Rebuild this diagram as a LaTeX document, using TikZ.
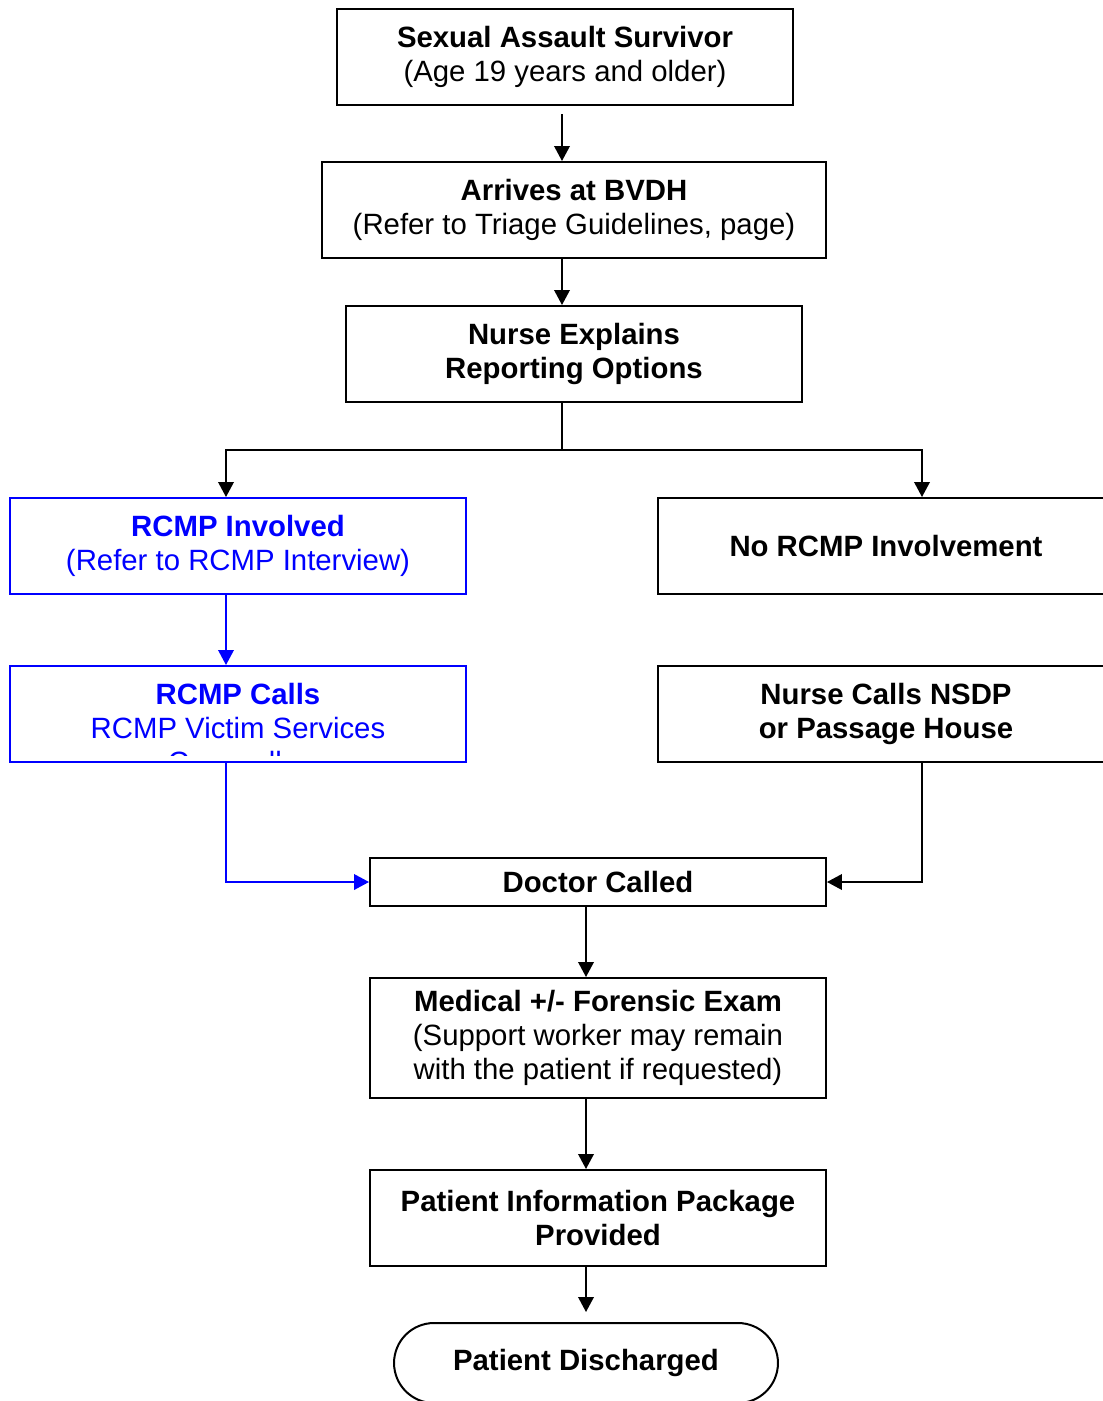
\documentclass[tikz,border=0pt]{standalone}
\usepackage{fontspec}
\setmainfont{Liberation Sans}
\usetikzlibrary{arrows.meta,shapes.misc}
\definecolor{rcmpblue}{RGB}{0,0,255}

\begin{document}
\begin{tikzpicture}[x=0.02cm,y=-0.02cm,line width=1.14pt,
  >={Triangle[length=0.3cm,width=0.31cm]},
  every node/.style={font=\fontsize{16.7}{19.35}\selectfont,align=center,inner sep=0pt},
  box/.style={shape=rectangle,draw,minimum width=9.12cm,minimum height=1.92cm},
  bluebox/.style={box,draw=rcmpblue,text=rcmpblue},
  endbox/.style={shape=rounded rectangle,draw,minimum width=7.68cm,minimum height=1.6cm}]
\clip (0,0) rectangle (1103,1401);
% top column
\path (565,57) node (surv) [box] {\textbf{Sexual Assault Survivor}\\(Age 19 years and older)};
\path (574,210) node (arrive) [box,minimum width=10.08cm] {\textbf{Arrives at BVDH}\\(Refer to Triage Guidelines, page)};
\path (574,354) node (opts) [box] {\textbf{Nurse Explains}\\\textbf{Reporting Options}};
% two branches
\path (238,546) node (invol) [bluebox] {\textbf{RCMP Involved}\\(Refer to RCMP Interview)};
\path (886,546) node (noinv) [box] {\textbf{No RCMP Involvement}};
\path (238,714) node (calls) [bluebox] {};
\begin{scope}
\clip ([yshift=0.16cm]calls.south west) rectangle (calls.north east);
\path (238,728) node (callstext) [text=rcmpblue] {\textbf{RCMP Calls}\\RCMP Victim Services\\Counsellor};
\end{scope}
\path (886,714) node (nsdp) [box] {\textbf{Nurse Calls NSDP}\\\textbf{or Passage House}};
% bottom column
\path (598,882) node (doc) [box,minimum height=0.96cm] {\textbf{Doctor Called}};
\path (598,1038) node (exam) [box,minimum height=2.4cm] {\textbf{Medical +/- Forensic Exam}\\(Support worker may remain\\with the patient if requested)};
\path (598,1218) node (pack) [box] {\textbf{Patient Information Package}\\\textbf{Provided}};
\path (586,1363) node (disch) [endbox] {\textbf{Patient Discharged}};

\coordinate (mid) at (562,0);
\coordinate (left) at (226,0);
\coordinate (right) at (922,0);
\coordinate (low) at (586,0);
\coordinate (fork) at (562,450);

\draw [->] ([yshift=-0.17cm]surv.south -| mid) to (arrive.north -| mid);
\draw [->] (arrive.south -| mid) to (opts.north -| mid);
\draw (opts.south -| mid) to (fork);
\draw [->] (fork) -| (invol.north -| left);
\draw [->] (fork) -| (noinv.north -| right);
\draw [->,rcmpblue] (invol.south -| left) to (calls.north -| left);
\draw [->,rcmpblue] (calls.south -| left) |- (doc.west);
\draw [->] (nsdp.south -| right) |- (doc.east);
\draw [->] (doc.south -| low) to (exam.north -| low);
\draw [->] (exam.south -| low) to (pack.north -| low);
\draw [->] (pack.south -| low) to ([yshift=0.2cm]disch.north);
\end{tikzpicture}
\end{document}
